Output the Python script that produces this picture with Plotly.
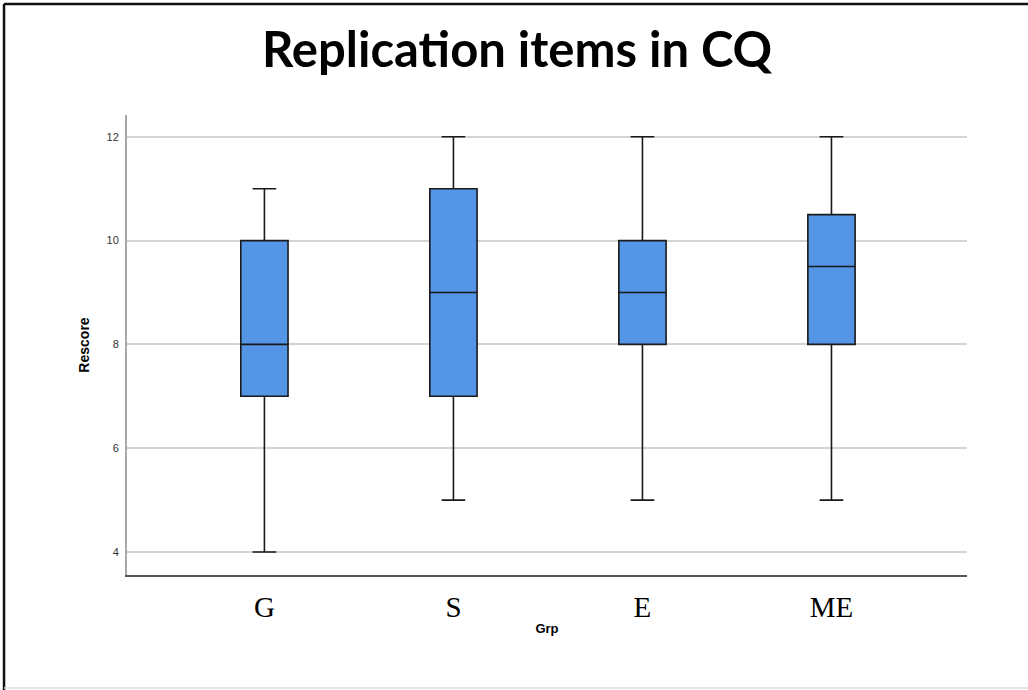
import plotly.graph_objects as go

groups = ["G", "S", "E", "ME"]
lower_fence = [4, 5, 5, 5]
q1 = [7, 7, 8, 8]
median = [8, 9, 9, 9.5]
q3 = [10, 11, 10, 10.5]
upper_fence = [11, 12, 12, 12]
y_ticks = [4, 6, 8, 10, 12]

fig = go.Figure()
fig.add_trace(go.Box(
    x=groups,
    q1=q1, median=median, q3=q3,
    lowerfence=lower_fence, upperfence=upper_fence,
    fillcolor="#5595E5",
    line=dict(color="#1a1a1a", width=1.6),
    width=0.25,
    whiskerwidth=0.5,
    boxpoints=False,
    hoverinfo="skip",
    showlegend=False,
))

fig.update_layout(
    width=1028, height=690,
    margin=dict(l=127, r=61, t=115, b=115),
    paper_bgcolor="white", plot_bgcolor="white",
    title=dict(text="<b>Replication items in CQ</b>", x=0.503, xanchor="center",
               y=0.928, yanchor="middle",
               font=dict(family="Lato", size=49, color="black")),
    xaxis=dict(
        type="category", range=[-0.727, 3.717],
        showgrid=False, showline=True, linecolor="#555555", linewidth=2,
        ticks="", ticklabelstandoff=5,
        tickfont=dict(family="Liberation Serif", size=29, color="black"),
        title=dict(text="<b>Grp</b>", standoff=2,
                   font=dict(family="Liberation Sans", size=13, color="black")),
    ),
    yaxis=dict(
        range=[3.557, 12.42], tickvals=y_ticks,
        showgrid=True, gridcolor="#d3d3d3", gridwidth=1.5,
        zeroline=False, showline=True, linecolor="#a8a8a8", linewidth=2,
        ticks="", ticklabelstandoff=4,
        tickfont=dict(family="Liberation Sans", size=11, color="#333333"),
        title=dict(text="<b>Rescore</b>", standoff=14,
                   font=dict(family="Liberation Sans", size=14, color="black")),
    ),
    shapes=[
        dict(type="line", xref="paper", yref="paper", x0=-0.1464, x1=1.08, y0=1.2413, y1=1.2413,
             line=dict(color="#111111", width=2.5)),
        dict(type="line", xref="paper", yref="paper", x0=-0.1464, x1=-0.1464, y0=-0.26, y1=1.2413,
             line=dict(color="#111111", width=2.5)),
        dict(type="line", xref="paper", yref="paper", x0=-0.1464, x1=1.08, y0=-0.2457, y1=-0.2457,
             line=dict(color="#dddddd", width=1.5)),
    ],
)

fig.write_html("out.html", config={"displayModeBar": False},
               post_script="document.body.style.margin='0';")
